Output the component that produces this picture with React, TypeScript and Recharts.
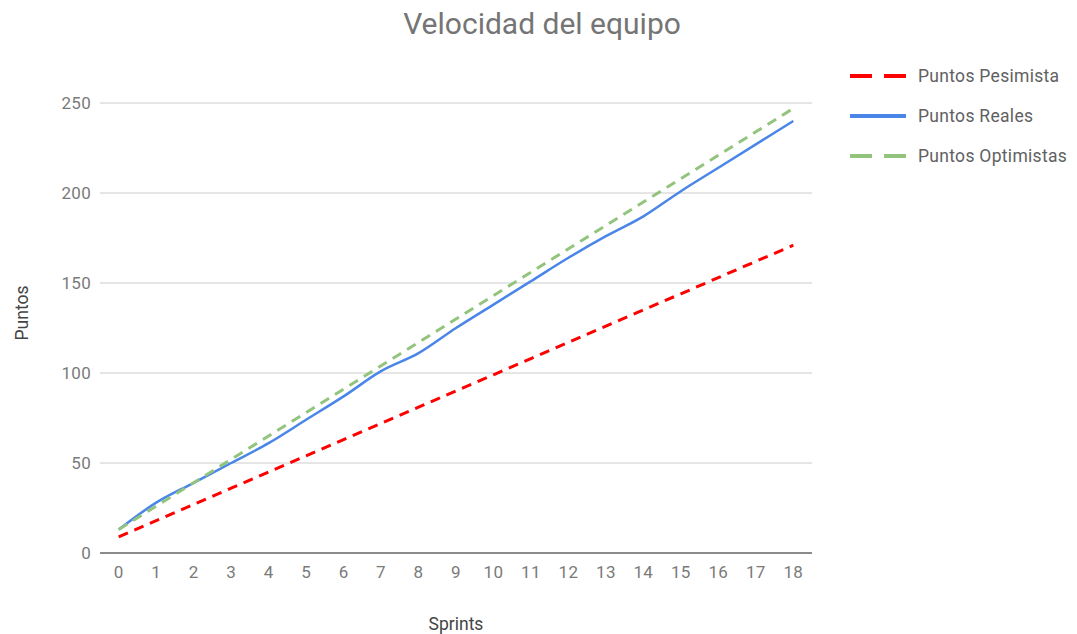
import React from 'react';
import { LineChart, Line, XAxis, YAxis, CartesianGrid } from 'recharts';

const sprints = ['0','1','2','3','4','5','6','7','8','9','10','11','12','13','14','15','16','17','18'];
const pesimista = [9, 18, 27, 36, 45, 54, 63, 72, 81, 90, 99, 108, 117, 126, 135, 144, 153, 162, 171];
const reales = [13, 28, 39, 50, 61, 74, 87, 101, 111, 125, 138, 151, 164, 176, 187, 201, 214, 227, 240];
const optimistas = [13, 26, 39, 52, 65, 78, 91, 104, 117, 130, 143, 156, 169, 182, 195, 208, 221, 234, 247];
const yTicks = [0, 50, 100, 150, 200, 250];

const data = sprints.map((s, i) => ({
  sprint: s,
  pes: pesimista[i],
  real: reales[i],
  opt: optimistas[i],
}));

const FONT = 'Roboto, "Noto Sans", sans-serif';

const legendItems = [
  { name: 'Puntos Pesimista', color: '#ff0000', dash: true },
  { name: 'Puntos Reales', color: '#4a86e8', dash: false },
  { name: 'Puntos Optimistas', color: '#93c47d', dash: true },
];

const CustomLegend = () => (
  <div style={{ position: 'absolute', left: 850, top: 56, fontFamily: FONT }}>
    {legendItems.map((it) => (
      <div key={it.name} style={{ display: 'flex', alignItems: 'center', height: 40 }}>
        <svg width={56} height={6} style={{ marginRight: 12 }}>
          <line
            x1={0}
            y1={3}
            x2={56}
            y2={3}
            stroke={it.color}
            strokeWidth={4}
            strokeDasharray={it.dash ? '22 12' : undefined}
          />
        </svg>
        <span style={{ fontSize: 17.5, color: '#616161', letterSpacing: 0.3 }}>{it.name}</span>
      </div>
    ))}
  </div>
);

export default function App() {
  return (
    <div style={{ position: 'absolute', left: 0, top: 0, width: 1077, height: 634, background: '#fff', fontFamily: FONT }}>
      <LineChart
        width={1077}
        height={634}
        data={data}
        margin={{ top: 103, right: 265, bottom: 0, left: 0 }}
      >
        <CartesianGrid vertical={false} stroke="#cccccc" />
        <XAxis
          dataKey="sprint"
          height={81}
          padding={{ left: 18.7, right: 18.7 }}
          tickLine={false}
          tickSize={0}
          tickMargin={13}
          axisLine={{ stroke: '#333333', strokeWidth: 1 }}
          tick={{ fill: '#7a7a7a', fontSize: 17, fontFamily: FONT, letterSpacing: 0.3 }}
          interval={0}
          label={{ value: 'Sprints', position: 'insideBottom', offset: 4, fill: '#444444', fontSize: 17.5, fontFamily: FONT }}
        />
        <YAxis
          width={100}
          domain={[0, 250]}
          ticks={yTicks}
          tickLine={false}
          axisLine={false}
          tickSize={0}
          tickMargin={9}
          tick={{ fill: '#7a7a7a', fontSize: 17, fontFamily: FONT, letterSpacing: 0.3 }}
          label={{
            content: () => (
              <text
                x={22}
                y={313}
                transform="rotate(-90, 22, 313)"
                textAnchor="middle"
                dominantBaseline="central"
                fill="#444444"
                fontSize={17.5}
                fontFamily={FONT}
              >
                Puntos
              </text>
            ),
          }}
        />
        <Line
          type="linear"
          dataKey="pes"
          name="Puntos Pesimista"
          stroke="#ff0000"
          strokeWidth={3}
          strokeDasharray="10 7"
          dot={false}
          isAnimationActive={false}
        />
        <Line
          type="monotone"
          dataKey="real"
          name="Puntos Reales"
          stroke="#4a86e8"
          strokeWidth={2.5}
          dot={false}
          isAnimationActive={false}
        />
        <Line
          type="linear"
          dataKey="opt"
          name="Puntos Optimistas"
          stroke="#93c47d"
          strokeWidth={3}
          strokeDasharray="10 7"
          dot={false}
          isAnimationActive={false}
        />
      </LineChart>
      <div
        style={{
          position: 'absolute',
          left: 0,
          top: 6,
          width: 1084,
          textAlign: 'center',
          fontSize: 30,
          color: '#757575',
          fontFamily: FONT,
          whiteSpace: 'nowrap',
        }}
      >
        Velocidad del equipo
      </div>
      <CustomLegend />
    </div>
  );
}
